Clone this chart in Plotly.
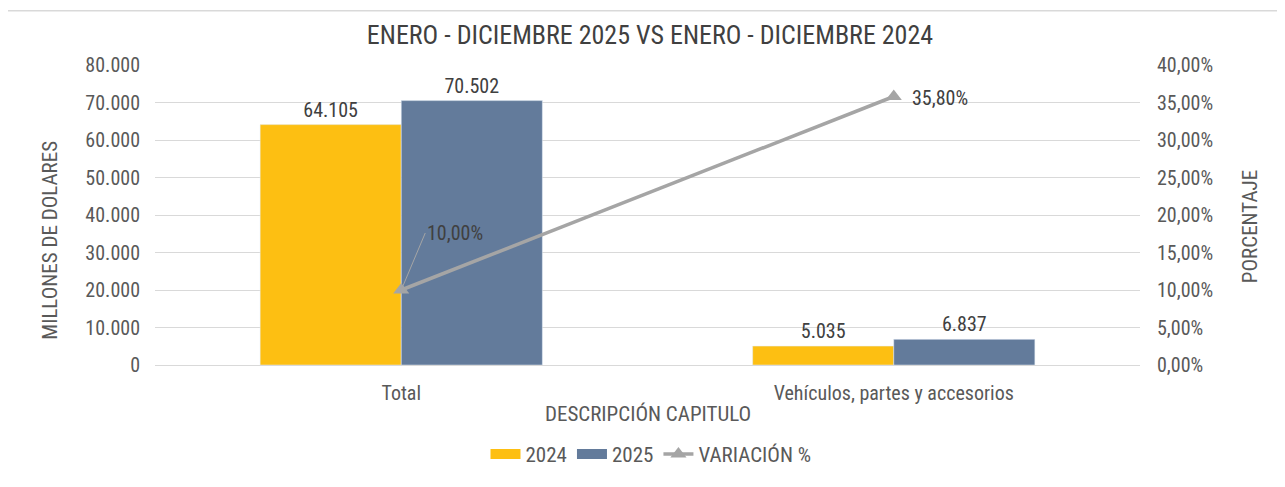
import plotly.graph_objects as go

categories = ["Total", "Vehículos, partes y accesorios"]
values_2024 = [64105, 5035]
values_2025 = [70502, 6837]
variacion = [0.10, 0.358]
labels_2024 = ["64.105", "5.035"]
labels_2025 = ["70.502", "6.837"]

FONT = "Liberation Sans Narrow, Arial Narrow, Roboto Condensed, Liberation Sans, Arial"
TXT = "#595959"
C24 = "#FDBF12"
C25 = "#637B9B"
CL = "#A5A5A5"

OFF = 8
W, H = 1285 - OFF, 487 - OFF
L, T = 155 - OFF, 65 - OFF
R, B = W - (1140 - OFF), H - (374 - OFF)
PW, PH = W - L - R, H - T - B


def px_x(sx):
    return (sx - OFF - L) / PW


def px_y(sy):
    return (H - B - (sy - OFF)) / PH


fig = go.Figure()
fig.add_trace(go.Bar(x=categories, y=values_2024, name="2024", marker_color=C24, showlegend=False,
                     legendgroup="a", text=labels_2024, textposition="outside",
                     textfont=dict(color="#404040", size=20), cliponaxis=False))
fig.add_trace(go.Bar(x=categories, y=values_2025, name="2025", marker_color=C25, showlegend=False,
                     legendgroup="b", text=labels_2025, textposition="outside",
                     textfont=dict(color="#404040", size=20), cliponaxis=False))
# legend swatches (rectangular, like the reference)
fig.add_trace(go.Scatter(x=[None], y=[None], name="2024", mode="lines", legendgroup="a",
                         line=dict(color=C24, width=11)))
fig.add_trace(go.Scatter(x=[None], y=[None], name="2025", mode="lines", legendgroup="b",
                         line=dict(color=C25, width=11)))
fig.add_trace(go.Scatter(x=categories, y=variacion, name="VARIACIÓN %", yaxis="y2",
                         mode="lines+markers", line=dict(color=CL, width=3.5),
                         marker=dict(symbol="triangle-up", size=14, color=CL)))

fig.update_layout(
    width=W, height=H,
    margin=dict(l=L, r=R, t=T, b=B),
    paper_bgcolor="white", plot_bgcolor="white",
    separators=",.",
    font=dict(family=FONT, size=20, color=TXT),
    title=dict(text="ENERO - DICIEMBRE 2025 VS ENERO - DICIEMBRE 2024", x=(650 - OFF) / W,
               xanchor="center", y=1 - (35 - OFF) / H, yanchor="middle",
               font=dict(size=26, color="#404040")),
    barmode="group", bargap=0.427, bargroupgap=0,
    xaxis=dict(showline=True, linecolor="#D9D9D9", ticks="", tickfont=dict(size=20),
               ticklabelstandoff=10, automargin=False),
    yaxis=dict(range=[0, 80000], dtick=10000, tickformat=",.0f", gridcolor="#D9D9D9",
               zeroline=False, tickfont=dict(size=20), ticklabelstandoff=14, automargin=False),
    yaxis2=dict(overlaying="y", side="right", range=[0, 0.4], dtick=0.05, tickformat=".2%",
                showgrid=False, zeroline=False, tickfont=dict(size=20), ticklabelstandoff=16,
                automargin=False),
    legend=dict(orientation="h", x=px_x(651), xanchor="center", y=px_y(466), yanchor="middle",
                font=dict(size=21, color=TXT), traceorder="normal", itemclick=False,
                tracegroupgap=0),
    shapes=[dict(type="rect", xref="paper", yref="paper",
                 x0=px_x(7), x1=px_x(1310), y0=px_y(510), y1=px_y(9),
                 line=dict(color="#D9D9D9", width=1.5), fillcolor="rgba(0,0,0,0)", layer="below")],
)

# axis titles as paper annotations to place exactly
fig.add_annotation(xref="paper", yref="paper", x=px_x(648), y=px_y(424), xanchor="center",
                   yanchor="middle", text="DESCRIPCIÓN CAPITULO", showarrow=False,
                   font=dict(size=21, color=TXT))
fig.add_annotation(xref="paper", yref="paper", x=px_x(50), y=px_y(246), xanchor="center",
                   yanchor="middle", textangle=-90, text="MILLONES DE DOLARES", showarrow=False,
                   font=dict(size=21, color=TXT))
fig.add_annotation(xref="paper", yref="paper", x=px_x(1250), y=px_y(232), xanchor="center",
                   yanchor="middle", textangle=-90, text="PORCENTAJE", showarrow=False,
                   font=dict(size=21, color=TXT))
# data labels of the line
fig.add_annotation(x=categories[1], y=variacion[1], yref="y2", text="35,80%", showarrow=False,
                   xanchor="left", xshift=16, yshift=-1, font=dict(size=20, color="#404040"))
fig.add_annotation(x=categories[0], y=variacion[0], yref="y2", text="10,00%", showarrow=True,
                   arrowhead=0, arrowwidth=1, arrowcolor=CL, ax=24, ay=-57,
                   xanchor="left", font=dict(size=20, color="#404040"))

fig.write_html("out.html")
